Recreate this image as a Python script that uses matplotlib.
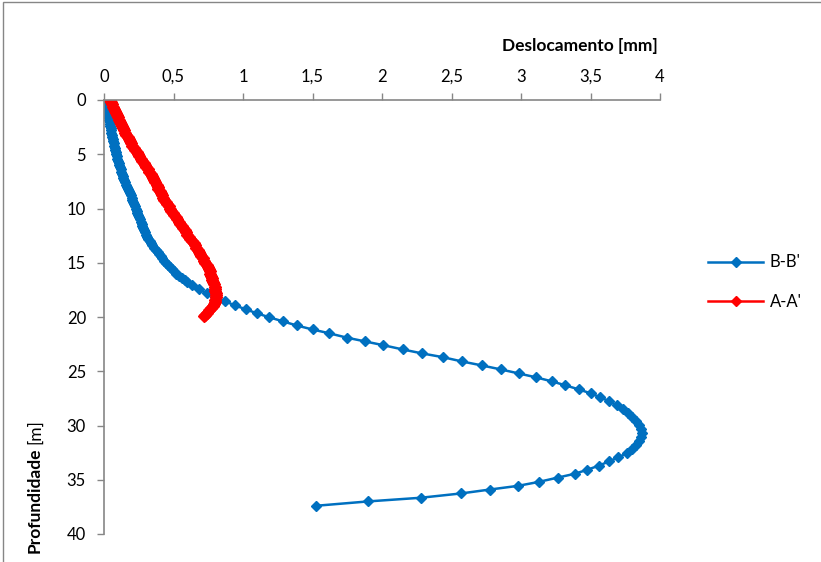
import matplotlib
matplotlib.use("Agg")
import matplotlib.pyplot as plt
from matplotlib.patches import Rectangle

plt.rcParams['font.family'] = ['Lato', 'DejaVu Sans']

# B-B' : depth [m], displacement [mm]
bb_depth = [0.0, 0.2, 0.4, 0.6, 0.8, 1.0, 1.2, 1.4, 1.6, 1.8, 2.0, 2.2, 2.4, 2.6,
            2.8, 3.0, 3.2, 3.4, 3.6, 3.8, 4.0, 4.2, 4.4, 4.6, 4.8, 5.0, 5.2, 5.4,
            5.6, 5.8, 6.0, 6.2, 6.4, 6.6, 6.8, 7.0, 7.2, 7.4, 7.6, 7.8, 8.0, 8.2,
            8.4, 8.6, 8.8, 9.0, 9.2, 9.4, 9.6, 9.8, 10.0, 10.2, 10.4, 10.6, 10.8,
            11.0, 11.2, 11.4, 11.6, 11.8, 12.0, 12.2, 12.4, 12.6, 12.8, 13.0,
            13.2, 13.4, 13.6, 13.8, 14.0, 14.2, 14.4, 14.6, 14.8, 15.0, 15.2,
            15.4, 15.6, 15.8, 16.0, 16.2, 16.4, 16.6, 16.8,
            17.07, 17.44, 17.81, 18.18, 18.55,
            18.92, 19.29, 19.66, 20.03, 20.4, 20.78, 21.15, 21.5, 21.9, 22.25,
            22.6, 22.99, 23.36, 23.7, 24.1, 24.46, 24.83, 25.2, 25.56, 25.93,
            26.3, 26.67, 27.03, 27.4, 27.77, 28.14, 28.5, 28.87, 29.24, 29.6,
            29.98, 30.3, 30.7, 31.1, 31.45, 31.8, 32.2, 32.57, 32.94, 33.3,
            33.7, 34.08, 34.45, 34.8, 35.2, 35.56, 35.9, 36.26, 36.66, 37.0, 37.4]
bb_disp = [0.0, 0.005, 0.01, 0.015, 0.02, 0.022, 0.025, 0.028, 0.03, 0.035,
           0.04, 0.042, 0.045, 0.048, 0.05, 0.052, 0.055, 0.06, 0.065, 0.068,
           0.07, 0.074, 0.078, 0.082, 0.085, 0.089, 0.093, 0.097, 0.10, 0.105,
           0.11, 0.115, 0.12, 0.125, 0.13, 0.135, 0.14, 0.145, 0.15, 0.157,
           0.165, 0.172, 0.18, 0.188, 0.195, 0.20, 0.205, 0.21, 0.215, 0.222,
           0.228, 0.234, 0.24, 0.247, 0.253, 0.259, 0.265, 0.27, 0.275, 0.282,
           0.29, 0.297, 0.305, 0.312, 0.32, 0.328, 0.336, 0.347, 0.36, 0.372,
           0.385, 0.395, 0.407, 0.42, 0.432, 0.445, 0.46, 0.475, 0.49, 0.505,
           0.52, 0.54, 0.56, 0.58, 0.60,
           0.63, 0.68, 0.74, 0.80, 0.87, 0.94, 1.02, 1.10, 1.19, 1.286, 1.386,
           1.50, 1.62, 1.746, 1.878, 2.01, 2.149, 2.29, 2.437, 2.576, 2.717,
           2.854, 2.983, 3.108, 3.221, 3.32, 3.415, 3.50, 3.57, 3.635, 3.69,
           3.736, 3.77, 3.80, 3.83, 3.85, 3.86, 3.87, 3.86, 3.85, 3.83, 3.80,
           3.76, 3.70, 3.635, 3.56, 3.477, 3.386, 3.266, 3.127, 2.98, 2.777,
           2.57, 2.278, 1.897, 1.525]

# A-A'
aa_depth = [0.0, 0.2, 0.4, 0.6, 0.8, 1.0, 1.2, 1.4, 1.6, 1.8, 2.0, 2.2, 2.4, 2.6,
            2.8, 3.0, 3.2, 3.4, 3.6, 3.8, 4.0, 4.2, 4.4, 4.6, 4.8, 5.0, 5.2, 5.4,
            5.6, 5.8, 6.0, 6.2, 6.4, 6.6, 6.8, 7.0, 7.2, 7.4, 7.6, 7.8, 8.0, 8.2,
            8.4, 8.6, 8.8, 9.0, 9.2, 9.4, 9.6, 9.8, 10.0, 10.2, 10.4, 10.6, 10.8,
            11.0, 11.2, 11.4, 11.6, 11.8, 12.0, 12.2, 12.4, 12.6, 12.8, 13.0,
            13.2, 13.4, 13.6, 13.8, 14.0, 14.2, 14.4, 14.6, 14.8, 15.0, 15.2,
            15.4, 15.6, 15.8, 16.0, 16.2, 16.4, 16.6, 16.8, 17.0, 17.2, 17.4,
            17.6, 17.8, 18.0, 18.2, 18.4, 18.6, 18.8, 19.0, 19.2, 19.4, 19.6,
            19.8, 19.9]
aa_disp = [0.04, 0.048, 0.055, 0.062, 0.07, 0.078, 0.085, 0.092, 0.10, 0.108,
           0.115, 0.122, 0.13, 0.138, 0.145, 0.152, 0.16, 0.17, 0.18, 0.188,
           0.195, 0.205, 0.215, 0.225, 0.235, 0.245, 0.255, 0.265, 0.275, 0.285,
           0.295, 0.305, 0.315, 0.325, 0.335, 0.345, 0.355, 0.362, 0.37, 0.378,
           0.385, 0.392, 0.40, 0.408, 0.415, 0.425, 0.435, 0.445, 0.455, 0.465,
           0.475, 0.485, 0.495, 0.505, 0.515, 0.528, 0.54, 0.55, 0.56, 0.57,
           0.58, 0.59, 0.60, 0.61, 0.62, 0.632, 0.645, 0.655, 0.665, 0.675,
           0.685, 0.692, 0.70, 0.71, 0.72, 0.73, 0.74, 0.748, 0.755, 0.76,
           0.765, 0.77, 0.775, 0.78, 0.785, 0.79, 0.795, 0.798, 0.80, 0.803,
           0.805, 0.803, 0.80, 0.796, 0.79, 0.782, 0.77, 0.755, 0.742, 0.728,
           0.72]

xticks = [0, 0.5, 1, 1.5, 2, 2.5, 3, 3.5, 4]
xticklabels = ['0', '0,5', '1', '1,5', '2', '2,5', '3', '3,5', '4']
yticks = [0, 5, 10, 15, 20, 25, 30, 35, 40]

W, H = 821, 562
fig = plt.figure(figsize=(W / 100, H / 100), dpi=100)
grey = '#868686'

# chart border (only top/left visible)
fig.patches.append(Rectangle((3 / W, -0.5), 2, 1.5 - 2 / H, transform=fig.transFigure,
                             fill=False, edgecolor=grey, linewidth=1))

ax = fig.add_axes([104 / W, 1 - 534 / H, (660 - 104) / W, (534 - 100) / H])
ax.plot(bb_disp, bb_depth, color='#0070C0', lw=1.8, marker='D', ms=5.5, label="B-B'")
ax.plot(aa_disp, aa_depth, color='#FF0000', lw=1.8, marker='D', ms=6.5, label="A-A'")

ax.set_xlim(0, 4)
ax.set_ylim(40, 0)
ax.xaxis.tick_top()
ax.set_xticks(xticks)
ax.set_xticklabels(xticklabels)
ax.set_yticks(yticks)
ax.tick_params(colors=grey, labelcolor='black', labelsize=12, length=5, width=1)
ax.tick_params(axis='x', pad=6)
ax.tick_params(axis='y', pad=8)
for s in ['right', 'bottom']:
    ax.spines[s].set_visible(False)
for s in ['top', 'left']:
    ax.spines[s].set_color(grey)
    ax.spines[s].set_linewidth(1.2)

fig.text(658 / W, 1 - 46 / H, 'Deslocamento [mm]', ha='right', va='center',
         fontsize=12.5, fontweight='bold')

t1 = fig.text(35 / W, 1 - 553 / H, 'Profundidade', rotation=90, ha='center',
              va='bottom', fontsize=12.5, fontweight='bold')
fig.canvas.draw()
bb = t1.get_window_extent()
fig.text(35 / W, (bb.y1 + 4) / H, '[m]', rotation=90, ha='center', va='bottom',
         fontsize=12.5)

leg = ax.legend(loc='center left', bbox_to_anchor=(693 / W, 1 - 282 / H),
                bbox_transform=fig.transFigure, frameon=False, fontsize=12,
                handlelength=3.3, labelspacing=1.4, handletextpad=0.4)
for h in leg.legend_handles:
    h.set_markersize(5.5)

fig.savefig('out.png', dpi=100)
